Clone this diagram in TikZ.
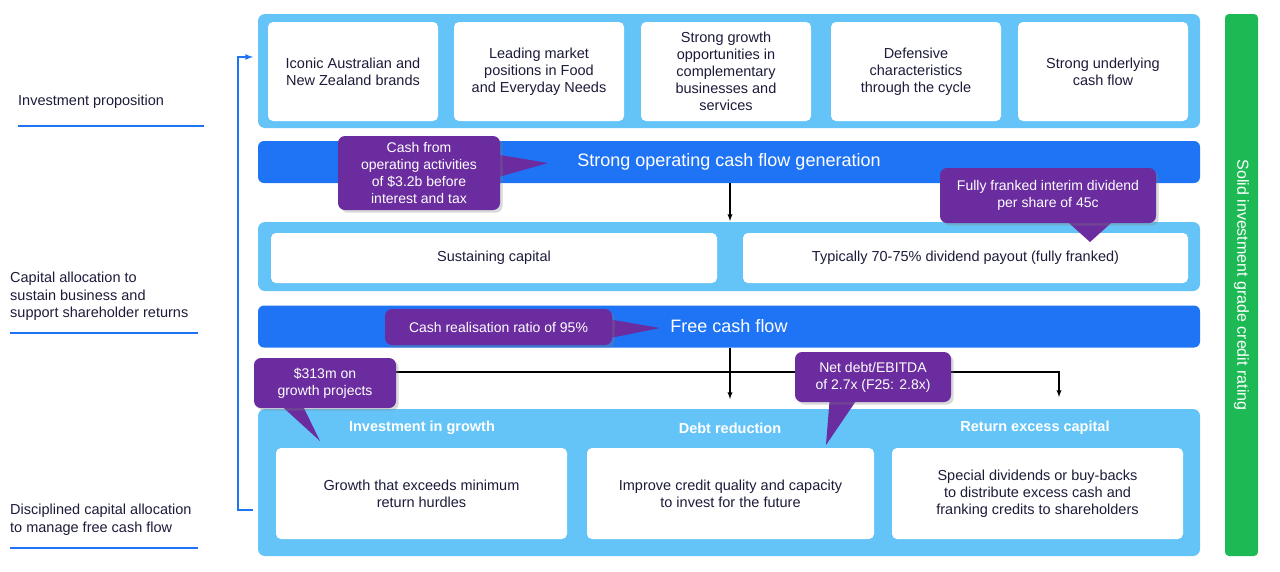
\documentclass[tikz,border=0pt]{standalone}
\usepackage{fontspec}
\setmainfont{Liberation Sans}
\usetikzlibrary{shadows}

\definecolor{panelblue}{HTML}{64C4F8}
\definecolor{barblue}{HTML}{1F74F5}
\definecolor{callpurple}{HTML}{6A2C9E}
\definecolor{railgreen}{HTML}{1DB954}
\definecolor{inktext}{HTML}{1C1C3A}

\tikzset{
  panel/.style={fill=panelblue, rounded corners=7pt, draw=none},
  card/.style={fill=white, rounded corners=5pt, align=center, text=inktext,
    font=\fontsize{14.5}{17}\selectfont, inner sep=0pt},
  bar/.style={fill=barblue, rounded corners=6pt, text=white,
    font=\fontsize{18}{20}\selectfont, inner sep=0pt,
    minimum width=942pt, minimum height=42pt},
  callout/.style={fill=callpurple, rounded corners=7pt, text=white, align=center,
    font=\fontsize{14}{17}\selectfont, inner sep=0pt, drop shadow={opacity=.3}},
  tail/.style={fill=callpurple},
  head/.style={text=white, font=\bfseries\fontsize{14.5}{17}\selectfont},
  side/.style={text=inktext, align=left, anchor=north west,
    font=\fontsize{14.5}{17.5}\selectfont, inner sep=0pt},
  rule/.style={barblue, line width=2.5pt},
  flow/.style={-latex, black, line width=1.3pt},
}

\begin{document}
\begin{tikzpicture}[x=1pt,y=-1pt]
  \useasboundingbox (0,0) rectangle (1280,571);

  % left labels
  \node[side] (lab1) at (18,95) {Investment proposition};
  \draw[rule] (18,126) -- (204,126);
  \node[side] (lab2) at (10,272) {Capital allocation to\\sustain business and\\support shareholder returns};
  \draw[rule] (10,333) -- (198,333);
  \node[side] (lab3) at (10,504) {Disciplined capital allocation\\to manage free cash flow};
  \draw[rule] (10,548) -- (198,548);

  % feedback bracket
  \coordinate (brb) at (253,510);
  \coordinate (brt) at (253,57);
  \draw[barblue, line width=1.6pt, -latex] (brb) -- (238,510) -- (238,57) -- (brt);

  % investment proposition
  \fill[panel] (258,14) rectangle (1200,128);
  \foreach \cx/\t [count=\i] in {353/{Iconic Australian and\\New Zealand brands},
      539/{Leading market\\positions in Food\\and Everyday Needs},
      726/{Strong growth\\opportunities in\\complementary\\businesses and\\services},
      916/{Defensive\\characteristics\\through the cycle},
      1103/{Strong underlying\\cash flow}}
    \node[card, minimum width=170pt, minimum height=99pt] (prop\i) at (\cx,71.5) {\t};

  % operating cash flow
  \node[bar] (ocf) at (729,162) {Strong operating cash flow generation};

  \fill[panel] (258,222) rectangle (1200,291);
  \node[card, minimum width=446pt, minimum height=50pt] (sust) at (494,258) {Sustaining capital};
  \node[card, minimum width=445pt, minimum height=50pt] (divd) at (965.5,258) {Typically 70-75\% dividend payout (fully franked)};
  \draw[flow] (ocf.south -| 730,0) -- (730,221);

  % free cash flow
  \node[bar] (fcf) at (729,326.5) {Free cash flow};

  \fill[panel] (258,409) rectangle (1200,556);
  \node[head] (h1) at (422,428) {Investment in growth};
  \node[head] (h2) at (730,428) {Debt reduction};
  \node[head] (h3) at (1035,428) {Return excess capital};
  \node[card, minimum width=291pt, minimum height=91pt] (grow) at (421.5,493.5) {Growth that exceeds minimum\\return hurdles};
  \node[card, minimum width=287pt, minimum height=91pt] (debt) at (730.5,493.5) {Improve credit quality and capacity\\to invest for the future};
  \node[card, minimum width=291pt, minimum height=91pt] (retn) at (1037.5,493.5) {Special dividends or buy-backs\\to distribute excess cash and\\franking credits to shareholders};

  \coordinate (split) at (730,372);
  \draw[flow] (fcf.south -| split) -- (730,399);
  \draw[black, line width=1.3pt] (320,372) -- (1059,372);
  \draw[flow] (1059,371.4) -- (1059,397);

  % callouts
  \fill[tail] (470,150) -- (548,163) -- (470,185) -- cycle;
  \node[callout, minimum width=162pt, minimum height=74pt] (c1) at (419,173)
    {Cash from\\operating activities\\of \$3.2b before\\interest and tax};
  \fill[tail] (1060,215) -- (1090,242) -- (1120,215) -- cycle;
  \node[callout, minimum width=216pt, minimum height=55pt] (c2) at (1048,195.5)
    {Fully franked interim dividend\\per share of 45c};
  \fill[tail] (590,316) -- (660,328) -- (590,342) -- cycle;
  \node[callout, minimum width=227pt, minimum height=36pt] (c3) at (498.5,327)
    {Cash realisation ratio of 95\%};
  \fill[tail] (275,400) -- (320,441) -- (300,400) -- cycle;
  \node[callout, minimum width=142pt, minimum height=50pt] (c4) at (325,383)
    {\$313m on\\growth projects};
  \fill[tail] (830,395) -- (826,445) -- (860,395) -- cycle;
  \node[callout, minimum width=156pt, minimum height=50pt] (c5) at (873,377)
    {Net debt/EBITDA\\of 2.7x (F25: 2.8x)};

  % credit rating rail
  \node[fill=railgreen, rounded corners=4pt, minimum width=542pt, minimum height=33pt,
    rotate=-90, text=white, font=\fontsize{16}{18}\selectfont, inner sep=0pt] (rail)
    at (1241.5,285) {Solid investment grade credit rating};
\end{tikzpicture}
\end{document}
